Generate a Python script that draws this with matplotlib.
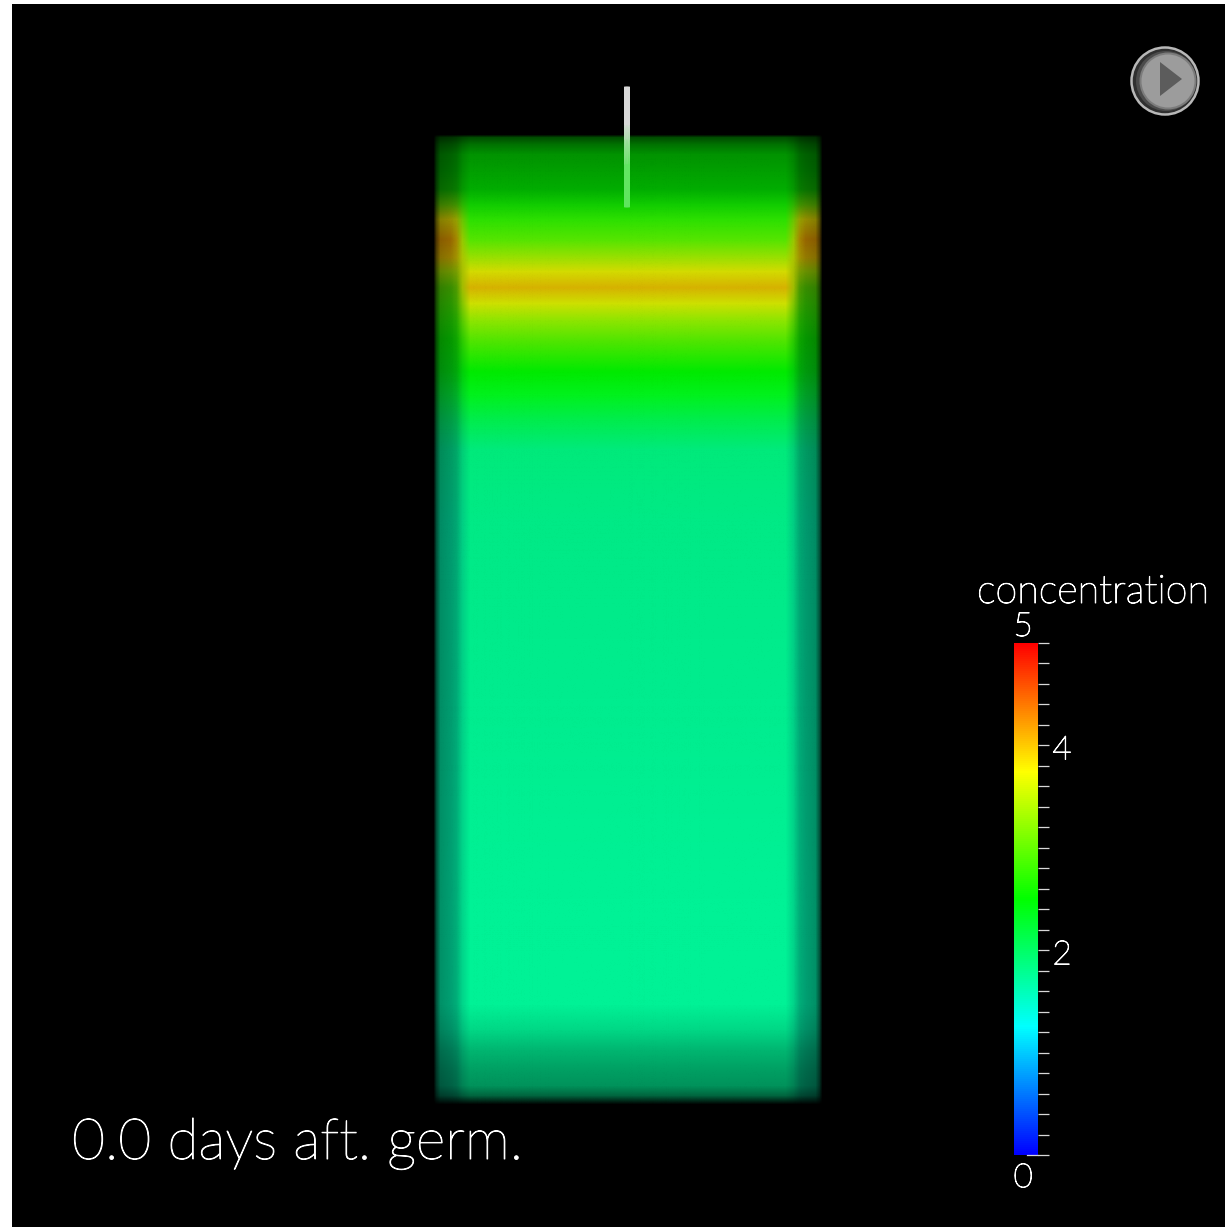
import matplotlib
matplotlib.use("Agg")
import matplotlib.pyplot as plt
import matplotlib.patheffects as pe
import numpy as np
from matplotlib.colors import LinearSegmentedColormap, Normalize
from matplotlib.image import NonUniformImage
from matplotlib.patches import Circle, Polygon, Rectangle
from matplotlib.cm import ScalarMappable

W, H = 1225, 1227
TITLE = "concentration"
TIME_LABEL = "0.0 days aft. germ."
VMIN, VMAX = 0, 5
BAR_TICKS = [i * 0.2 for i in range(26)]
BAR_LABELS = [2, 4]

# readings down the block: pixel row, centre concentration, edge concentration, brightness
depth_rows = [135, 138, 145, 155, 170, 190, 205, 220, 240, 258, 272, 288, 304, 320, 340, 372, 395, 420, 450, 520, 700, 900, 1005, 1030, 1050, 1070, 1086, 1096, 1105]
centre_conc = [2.5, 2.5, 2.5, 2.5, 2.5, 2.5, 2.6, 2.75, 2.95, 3.35, 3.7, 3.95, 3.65, 3.3, 2.95, 2.5, 2.35, 2.1, 1.85, 1.78, 1.74, 1.72, 1.72, 1.72, 1.72, 1.72, 1.72, 1.72, 1.72]
edge_conc = [2.5, 2.5, 2.5, 2.5, 2.5, 2.6, 3.1, 3.8, 4.15, 3.95, 3.4, 3.0, 2.85, 2.7, 2.55, 2.4, 2.2, 1.95, 1.7, 1.62, 1.62, 1.62, 1.62, 1.62, 1.62, 1.62, 1.62, 1.62, 1.62]
row_bright = [0.0, 0.3, 0.45, 0.58, 0.62, 0.68, 0.8, 0.88, 0.9, 0.88, 0.86, 0.84, 0.88, 0.9, 0.9, 0.92, 0.95, 0.93, 0.92, 0.92, 0.93, 0.95, 0.95, 0.85, 0.72, 0.63, 0.58, 0.4, 0.0]
# readings across the block
across_cols = [433, 436, 440, 450, 456, 462, 470, 627, 785, 793, 799, 805, 815, 819, 822]
edge_weight = [1.0, 1.0, 1.0, 1.0, 0.85, 0.4, 0.0, 0.0, 0.0, 0.4, 0.85, 1.0, 1.0, 1.0, 1.0]
col_bright = [0.0, 0.35, 0.6, 0.66, 0.72, 0.88, 1.0, 1.0, 1.0, 0.88, 0.72, 0.66, 0.6, 0.35, 0.0]

jet = LinearSegmentedColormap.from_list("conc", [(0, 0, 1), (0, 1, 1), (0, 1, 0), (1, 1, 0), (1, 0, 0)])
norm = Normalize(VMIN, VMAX)

fig = plt.figure(figsize=(W / 100, H / 100), dpi=100, facecolor="white")
ax = fig.add_axes([12 / W, 0, (W - 12) / W, (H - 5) / H], facecolor="black")
ax.set_xlim(12, W)
ax.set_ylim(H, 5)
ax.set_axis_off()
ax.add_patch(Rectangle((12, 5), W, H, fc="black", ec="none", zorder=0))

conc = np.outer(centre_conc, 1 - np.array(edge_weight)) + np.outer(edge_conc, edge_weight)
bright = np.outer(row_bright, col_bright)
rgba = jet(norm(conc))
rgba[..., :3] *= bright[..., None]
block = NonUniformImage(ax, interpolation="bilinear", zorder=1)
block.set_data(across_cols, depth_rows, rgba)
ax.add_image(block)

# needle
needle_rows = [87, 125, 140, 165, 207]
needle_tone = [0.0, 0.0, 0.35, 0.85, 0.9]
needle_cmap = LinearSegmentedColormap.from_list("needle", ["#d8d8d8", "#50e850"])
ax.pcolormesh([624.5, 627, 629.5], needle_rows, np.column_stack([needle_tone] * 3),
              shading="gouraud", cmap=needle_cmap, vmin=0, vmax=1, zorder=3)

# play button
cx, cy = 1165, 81
ax.add_patch(Circle((cx, cy), 33.5, fc="#303030", ec="#b8b8b8", lw=1.8, zorder=4))
ax.add_patch(Circle((cx + 1, cy), 30, fc="#4c4c4c", ec="none", zorder=5))
ax.add_patch(Circle((cx + 3, cy), 28.5, fc="#7c7c7c", ec="none", zorder=6))
ax.add_patch(Circle((cx + 3, cy), 26.5, fc="#9c9c9c", ec="none", zorder=7))
ax.add_patch(Polygon([(1160, 62), (1182, 79), (1160, 96)], closed=True, fc="#5c5c5c", ec="none", zorder=8))

font = ["Lato", "DejaVu Sans"]
thick = [pe.withStroke(linewidth=0.7, foreground="white")]
ax.text(72, 1159, TIME_LABEL, color="white", fontsize=41, family=font, weight="light", ha="left", va="baseline", zorder=9, path_effects=thick)
ax.text(1093, 603, TITLE, color="white", fontsize=28.5, family=font, weight="light", ha="center", va="baseline", zorder=9, path_effects=thick)

# colour bar
cax = fig.add_axes([1014 / W, 1 - 1155 / H, 24 / W, 512 / H])
cb = fig.colorbar(ScalarMappable(norm=norm, cmap=jet), cax=cax)
cb.outline.set_visible(False)
cb.set_ticks(BAR_TICKS)
cb.set_ticklabels([""] * len(BAR_TICKS))
cax.tick_params(axis="y", length=8, width=0.9, color="#d8d8d8")
cax.plot([0.55, 1.0], [0, 0], color="#d8d8d8", lw=0.9, clip_on=False)
for v in BAR_LABELS:
    cax.text(1.6, v - 0.05, str(v), color="white", fontsize=24, family=font, weight="light", ha="left", va="center", path_effects=thick)
cax.text(0.38, VMAX + 0.01, "5", color="white", fontsize=24, family=font, weight="light", ha="center", va="bottom", path_effects=thick)
cax.text(0.38, VMIN - 0.08, "0", color="white", fontsize=24, family=font, weight="light", ha="center", va="top", path_effects=thick)

fig.savefig("out.png", dpi=100, facecolor="white")
